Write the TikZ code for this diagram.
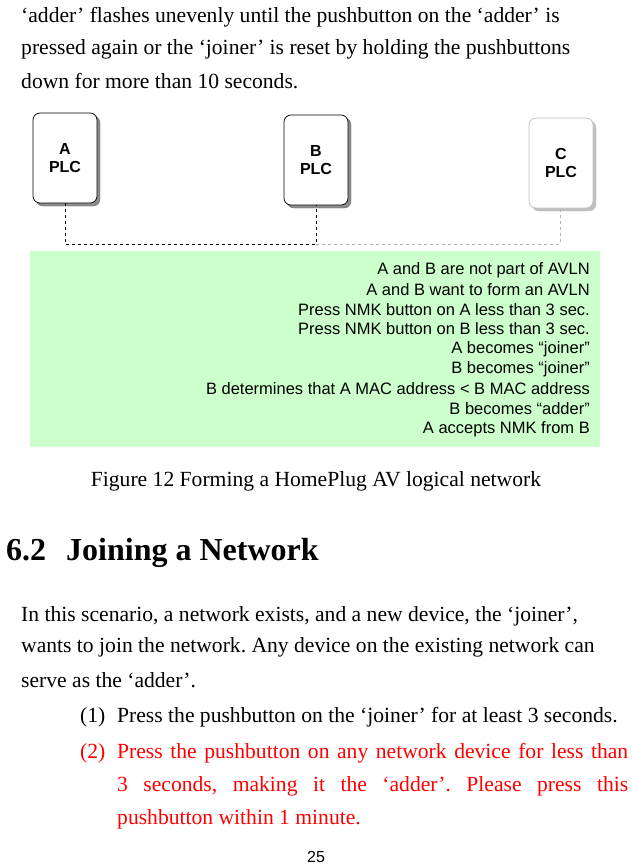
\documentclass[tikz,border=0pt]{standalone}
\usepackage{fontspec}
\setmainfont{Liberation Serif}
\setsansfont{Liberation Sans}
\frenchspacing
\begin{document}
\begin{tikzpicture}[x=1pt,y=-1pt,
  plc/.style={draw=#1,line width=0.7pt,rounded corners=7pt,fill=white,minimum width=64pt,minimum height=90pt,font=\sffamily\bfseries\fontsize{16}{18}\selectfont,align=center},
  shad/.style={draw=black!60,fill=black!45,rounded corners=7pt,minimum width=64pt,minimum height=90pt},
  gl/.style={anchor=east,font=\sffamily\fontsize{16.5}{18}\selectfont,inner sep=0pt},
  body/.style={anchor=west,font=\fontsize{21.6}{23}\selectfont,inner sep=0pt}]
\useasboundingbox (0,0) rectangle (632,865);
% boxes
\node[shad] at (68,161) {};
\node[plc=black] (A) at (65,158) {A\\PLC};
\node[shad] at (319,163) {};
\node[plc=black] (B) at (316,160) {B\\PLC};
\node[shad,draw=black!25,fill=black!25] at (564,166) {};
\node[plc=black!25] (C) at (561,163) {C\\PLC};
\coordinate (a1) at (65,244); \coordinate (b1) at (316,244); \coordinate (c1) at (560,244);
\draw[dashed,line width=0.8pt] (A.south) -- (a1) -- (b1) -- (B.south);
\draw[dashed,black!30,line width=0.6pt] (b1) -- (c1) -- (C.south -| c1);
\fill[green!20] (30,251) rectangle (600,447);
\node[gl] (t1) at (590,270) {A and B are not part of AVLN};
\node[gl] (t2) at (590,290) {A and B want to form an AVLN};
\node[gl] (t3) at (590,310) {Press NMK button on A less than 3 sec.};
\node[gl] (t4) at (590,329) {Press NMK button on B less than 3 sec.};
\node[gl] (t5) at (590,349) {A becomes “joiner”};
\node[gl] (t6) at (590,369) {B becomes “joiner”};
\node[gl] (t7) at (590,389) {B determines that A MAC address < B MAC address};
\node[gl] (t8) at (590,409) {B becomes “adder”};
\node[gl] (t9) at (590,429) {A accepts NMK from B};
% text
\node[body] (p1) at (21,17) {‘adder’ flashes unevenly until the pushbutton on the ‘adder’ is};
\node[body] (p2) at (21,49) {pressed again or the ‘joiner’ is reset by holding the pushbuttons};
\node[body] (p3) at (21,81) {down for more than 10 seconds.};
\node[body,anchor=center] (cap) at (316,481) {Figure 12 Forming a HomePlug AV logical network};
\node[anchor=west,inner sep=0pt,font=\bfseries\fontsize{32}{34}\selectfont] (h) at (6,553) {6.2\hspace{20pt}Joining a Network};
\node[body] (q1) at (21,616) {In this scenario, a network exists, and a new device, the ‘joiner’,};
\node[body] (q2) at (21,647) {wants to join the network. Any device on the existing network can};
\node[body] (q3) at (21,680) {serve as the ‘adder’.};
\node[body] (l1n) at (80,717) {(1)};
\node[body] (l1) at (117,717) {Press the pushbutton on the ‘joiner’ for at least 3 seconds.};
\node[body,red] (l2n) at (80,753) {(2)};
\node[body,red] (l2) at (117,753) {\makebox[511pt][s]{Press the pushbutton on any network device for less than}};
\node[body,red] (l3) at (117,786) {\makebox[511pt][s]{3 seconds, making it the ‘adder’. Please press this}};
\node[body,red] (l4) at (117,819) {pushbutton within 1 minute.};
\node[inner sep=0pt,font=\sffamily\fontsize{16}{18}\selectfont] (pg) at (316,857) {25};
\end{tikzpicture}
\end{document}
